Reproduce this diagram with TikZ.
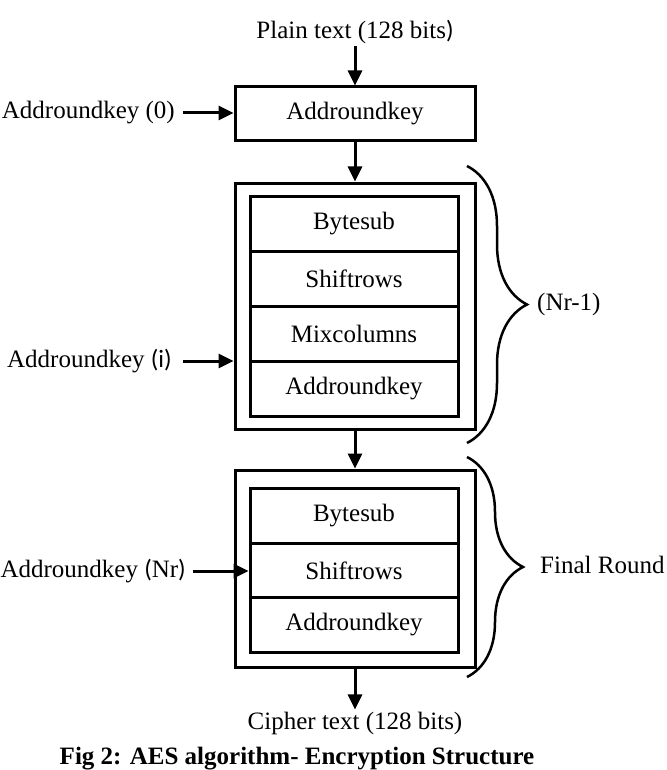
\documentclass[tikz,border=0pt]{standalone}
\usepackage{fontspec}
\setmainfont{Liberation Serif}
\newfontfamily\sfp{Carlito}
\usetikzlibrary{arrows.meta,decorations.pathreplacing}
\begin{document}
\begin{tikzpicture}[x=1pt,y=-1pt,
  every node/.style={font=\fontsize{25}{29}\selectfont},
  blk/.style={draw,line width=3pt,minimum width=240pt,inner sep=0pt},
  row/.style={draw,line width=3pt,minimum width=208pt,inner sep=0pt},
  lbl/.style={inner sep=2pt},
  arr/.style={line width=3pt,-{Triangle[length=15pt,width=14pt]}},
  brc/.style={line width=2.5pt,decorate,decoration={brace,amplitude=#1}}]
\useasboundingbox (0,0) rectangle (666,770);
% top
\node[lbl] (pt) at (355,32) {Plain text (128 bits{\sfp)}};
\node[blk,minimum height=54pt] (b1) at (355,114) {Addroundkey};
\node[lbl,anchor=east] (k0) at (177,113) {Addroundkey (0)};
\draw[arr] (pt.south) -- (b1.north);
\draw[arr] (k0.east) ++(6,0) -- (k0.east -| b1.west);
% round block
\node[blk,minimum height=246pt] (b2) at (355,306) {};
\node[row,minimum height=55pt] (r1) at (354,223.5) {Bytesub};
\node[row,minimum height=55pt] (r2) at (354,278.5) {Shiftrows};
\node[row,minimum height=55pt] (r3) at (354,333.5) {Mixcolumns};
\node[row,minimum height=55pt] (r4) at (354,388.5) {Addroundkey};
\node[lbl,anchor=east] (ki) at (174,361) {Addroundkey {\sfp(i)}};
\draw[arr] (b1.south) -- (b2.north);
\draw[arr] (ki.east) ++(9,0) -- (ki.east -| b2.west);
% final block
\node[blk,minimum height=197pt] (b3) at (355,568.5) {};
\node[row,minimum height=54.5pt] (f1) at (354,516) {Bytesub};
\node[row,minimum height=54.5pt] (f2) at (354,570.5) {Shiftrows};
\node[row,minimum height=54.5pt] (f3) at (354,625) {Addroundkey};
\node[lbl,anchor=east] (kn) at (188,571) {Addroundkey {\sfp(}Nr{\sfp)}};
\draw[arr] (b2.south) -- (b3.north);
\draw[arr] (kn.east) ++(5,0) -- (kn.east -| f2.west);
% output
\node[lbl] (ct) at (355,723) {Cipher text (128 bits)};
\draw[arr] (b3.south) -- (ct.north);
% braces
\coordinate (t1) at (467,166);
\coordinate (e1) at (467,443);
\draw[brc=60pt] (t1) -- (e1);
\node[lbl,anchor=west] (nr) at (535,304) {(Nr-1)};
\coordinate (t2) at (467,457);
\coordinate (e2) at (467,677);
\draw[brc=56pt] (t2) -- (e2);
\node[lbl,anchor=west] (fr) at (538,565) {Final Round};
% caption
\node[lbl,font=\fontsize{25}{29}\selectfont\bfseries] (cap) at (297,759) {Fig 2: AES algorithm- Encryption Structure};
\end{tikzpicture}
\end{document}
